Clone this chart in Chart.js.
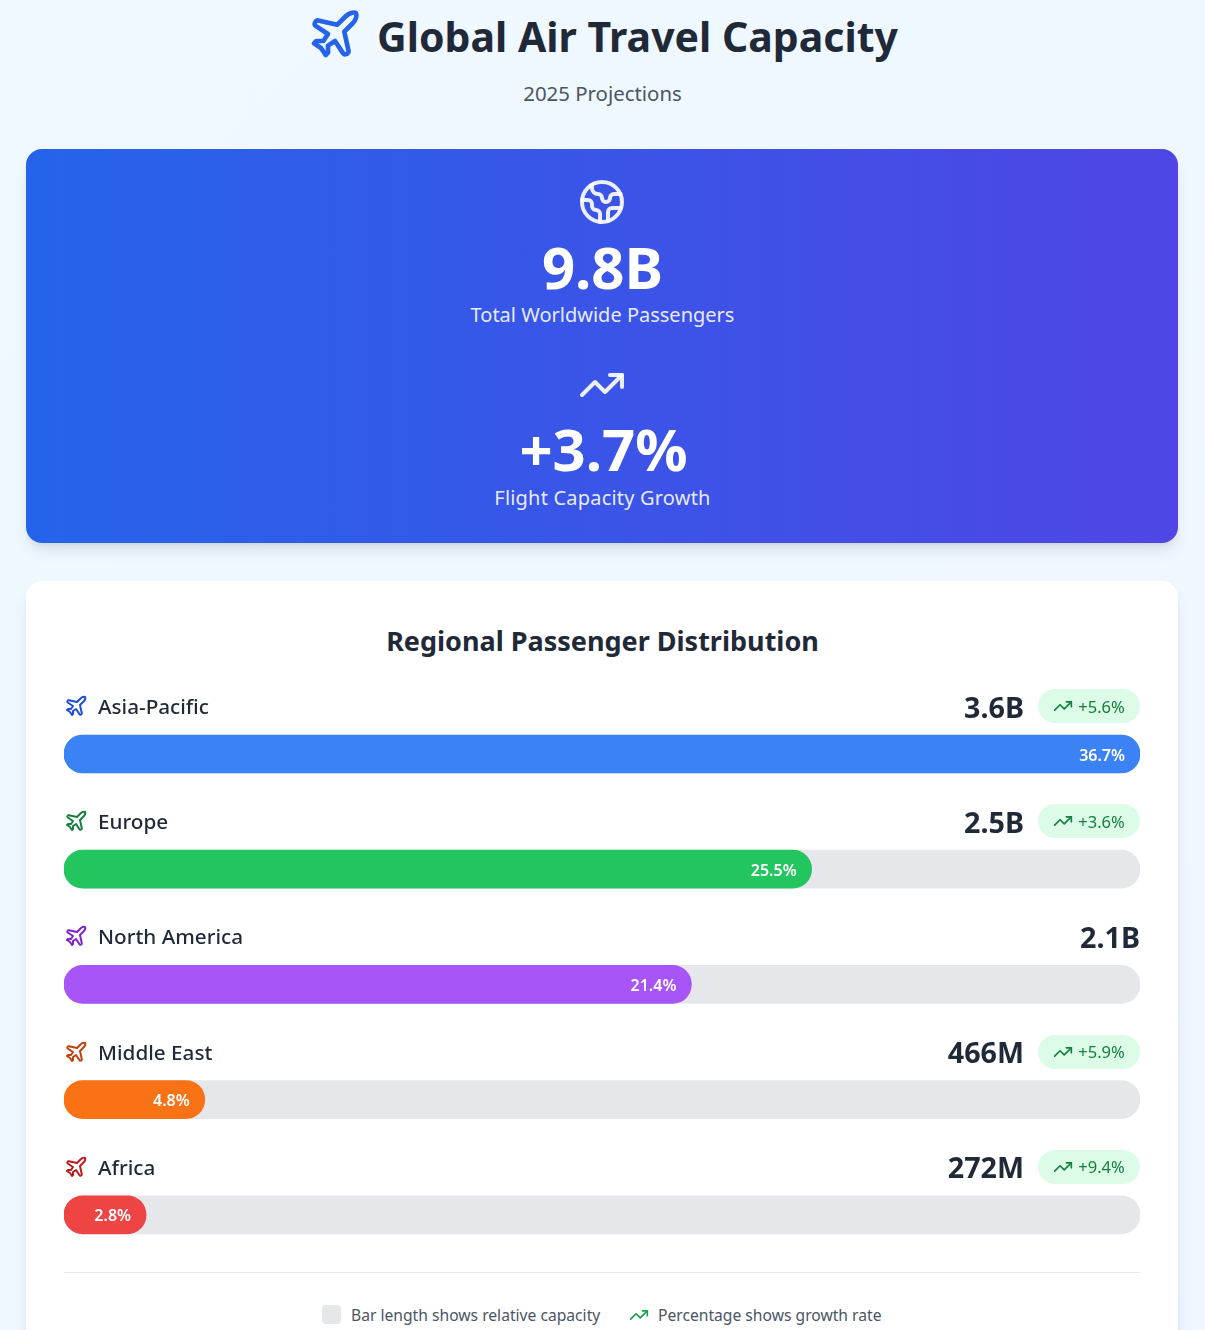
<!doctype html>
<html>
<head>
<meta charset="utf-8">
<title>Global Air Travel Capacity</title>
<script src="https://cdn.jsdelivr.net/npm/chart.js@4"></script>
<style>
html, body { margin: 0; height: 1330px; overflow: hidden; }
body { position: relative; width: 1205px; background: linear-gradient(135deg, #f0f9ff, #eff6ff); font-family: "Noto Sans", sans-serif; color: #1f2937; }
.abs { position: absolute; }
.center { left: 0; width: 1205px; text-align: center; transform: translateY(-50%); white-space: nowrap; }
svg { fill: none; stroke: currentColor; stroke-width: 2; stroke-linecap: round; stroke-linejoin: round; display: block; }
#title { font-size: 41px; font-weight: 700; top: 36px; left: 377px; transform: translateY(-50%); white-space: nowrap; }
#subtitle { top: 93px; font-size: 20.4px; color: #4b5563; }
#hero { left: 26px; top: 149px; width: 1152px; height: 394px; border-radius: 16px; background: linear-gradient(90deg, #2563eb, #4f46e5); box-shadow: 0 10px 15px -3px rgba(0,0,0,.1), 0 4px 6px -4px rgba(0,0,0,.1); }
#card { left: 26px; top: 581px; width: 1152px; height: 800px; border-radius: 16px; background: #fff; box-shadow: 0 10px 15px -3px rgba(0,0,0,.1), 0 4px 6px -4px rgba(0,0,0,.1); }
.big { color: #fff; font-size: 58px; font-weight: 700; }
.sub { color: rgba(255,255,255,.9); font-size: 20px; }
#cardTitle { top: 640px; font-size: 27px; font-weight: 700; }
#chartBox { left: 64px; top: 696px; width: 1076px; height: 577px; }
.row { left: 64px; width: 1076px; height: 34px; display: flex; align-items: center; }
.row .name { margin-left: 10px; font-size: 20.7px; font-weight: 500; flex: 1; white-space: nowrap; }
.row .val { font-size: 28.7px; font-weight: 700; white-space: nowrap; }
.pill { margin-left: 14px; width: 102px; height: 34px; box-sizing: border-box; border-radius: 17px; background: #dcfce7; color: #15803d; display: flex; align-items: center; justify-content: center; font-size: 16.5px; gap: 5px; }
#rule { left: 64px; width: 1076px; top: 1272px; height: 1px; background: #e5e7eb; }
.legendText { font-size: 15.65px; color: #4b5563; white-space: nowrap; top: 1315px; transform: translateY(-50%); }
#swatch { left: 322px; top: 1305px; width: 19px; height: 19px; border-radius: 4px; background: #e5e7eb; }
</style>
</head>
<body>
<svg class="abs" style="left:307px;top:6px;color:#2563eb" width="56" height="56" viewBox="0 0 24 24"><use href="#plane"/></svg>
<div class="abs" id="title">Global Air Travel Capacity</div>
<div class="abs center" id="subtitle">2025 Projections</div>

<div class="abs" id="hero"></div>
<svg class="abs" style="left:578px;top:178px;color:rgba(255,255,255,.9)" width="48" height="48" viewBox="0 0 24 24"><path d="M21.54 15H17a2 2 0 0 0-2 2v4.54"/><path d="M7 3.34V5a3 3 0 0 0 3 3a2 2 0 0 1 2 2c0 1.1.9 2 2 2a2 2 0 0 0 2-2c0-1.1.9-2 2-2h3.17"/><path d="M11 21.95V18a2 2 0 0 0-2-2a2 2 0 0 1-2-2v-1a2 2 0 0 0-2-2H2.05"/><circle cx="12" cy="12" r="10"/></svg>
<div class="abs center big" style="top:266px">9.8B</div>
<div class="abs center sub" style="top:314px">Total Worldwide Passengers</div>
<svg class="abs" style="left:578px;top:361px;color:rgba(255,255,255,.9)" width="48" height="48" viewBox="0 0 24 24"><use href="#trend"/></svg>
<div class="abs center big" style="top:448px;left:1px">+3.7%</div>
<div class="abs center sub" style="top:497px;letter-spacing:.2px">Flight Capacity Growth</div>

<div class="abs" id="card"></div>
<div class="abs center" id="cardTitle">Regional Passenger Distribution</div>
<div class="abs" id="chartBox"><canvas id="myChart"></canvas></div>
<div id="rows"></div>
<div class="abs" id="rule"></div>
<div class="abs" id="swatch"></div>
<div class="abs legendText" style="left:351px">Bar length shows relative capacity</div>
<svg class="abs" style="left:629px;top:1305px;color:#16a34a" width="20" height="20" viewBox="0 0 24 24"><use href="#trend"/></svg>
<div class="abs legendText" style="left:658px">Percentage shows growth rate</div>

<svg width="0" height="0" style="position:absolute">
  <defs>
    <g id="plane"><path d="M17.8 19.2 16 11l3.5-3.5C21 6 21.5 4 21 3c-1-.5-3 0-4.5 1.5L13 8 4.8 6.2c-.5-.1-.9.1-1.1.5l-.3.5c-.2.5-.1 1 .3 1.3L9 12l-2 3H4l-1 1 3 2 2 3 1-1v-3l3-2 3.5 5.3c.3.4.8.5 1.3.3l.5-.2c.4-.3.6-.7.5-1.2z"/></g>
    <g id="trend"><polyline points="22 7 13.5 15.5 8.5 10.5 2 17"/><polyline points="16 7 22 7 22 13"/></g>
  </defs>
</svg>

<script>
var regions = ["Asia-Pacific", "Europe", "North America", "Middle East", "Africa"];
var passengers = ["3.6B", "2.5B", "2.1B", "466M", "272M"];
var shareValues = [36.7, 25.5, 21.4, 4.8, 2.8];
var growthLabels = ["+5.6%", "+3.6%", null, "+5.9%", "+9.4%"];
var trackValues = [36.7, 36.7, 36.7, 36.7, 36.7];
var barColors = ["#3b82f6", "#22c55e", "#a855f7", "#f97316", "#ef4444"];
var iconColors = ["#1d4ed8", "#15803d", "#7e22ce", "#c2410c", "#b91c1c"];

// percent text sits inside the right end of each coloured bar
var barLabels = {
    id: "barLabels",
    afterDatasetsDraw: function(chart) {
        var ctx = chart.ctx;
        ctx.save();
        ctx.fillStyle = "#fff";
        ctx.font = "600 16px 'Noto Sans'";
        ctx.textAlign = "right";
        ctx.textBaseline = "middle";
        chart.getDatasetMeta(0).data.forEach(function(bar, i) {
            ctx.fillText(shareValues[i].toFixed(1) + "%", bar.x - 15, bar.y + 2);
        });
        ctx.restore();
    }
};

var chart = new Chart(document.getElementById("myChart"), {
    type: "bar",
    data: {
        labels: regions,
        datasets: [
            { data: shareValues, backgroundColor: barColors, borderRadius: 19, borderSkipped: false, barThickness: 38 },
            { data: trackValues, backgroundColor: "#e5e7eb", borderRadius: 19, borderSkipped: false, barThickness: 38 }
        ]
    },
    options: {
        indexAxis: "y",
        responsive: true,
        maintainAspectRatio: false,
        animation: false,
        events: [],
        layout: { padding: { top: 0.4, bottom: 0.6 } },
        plugins: { legend: { display: false }, tooltip: { enabled: false } },
        scales: {
            x: { display: false, min: 0, max: 36.7 },
            y: { display: false, stacked: true }
        }
    },
    plugins: [barLabels]
});

// row headers hang off the chart's own y scale
var rows = document.getElementById("rows");
var boxTop = 696;
regions.forEach(function(name, i) {
    var y = boxTop + chart.scales.y.getPixelForValue(i) - 48 - 17;
    var pill = growthLabels[i] ? '<div class="pill"><svg width="20" height="20" viewBox="0 0 24 24"><use href="#trend"/></svg>' + growthLabels[i] + '</div>' : '';
    var el = document.createElement("div");
    el.className = "abs row";
    el.style.top = y + "px";
    el.innerHTML = '<svg width="24" height="24" viewBox="0 0 24 24" style="color:' + iconColors[i] + '"><use href="#plane"/></svg>' +
        '<div class="name">' + name + '</div><div class="val">' + passengers[i] + '</div>' + pill;
    rows.appendChild(el);
});
</script>
</body>
</html>
